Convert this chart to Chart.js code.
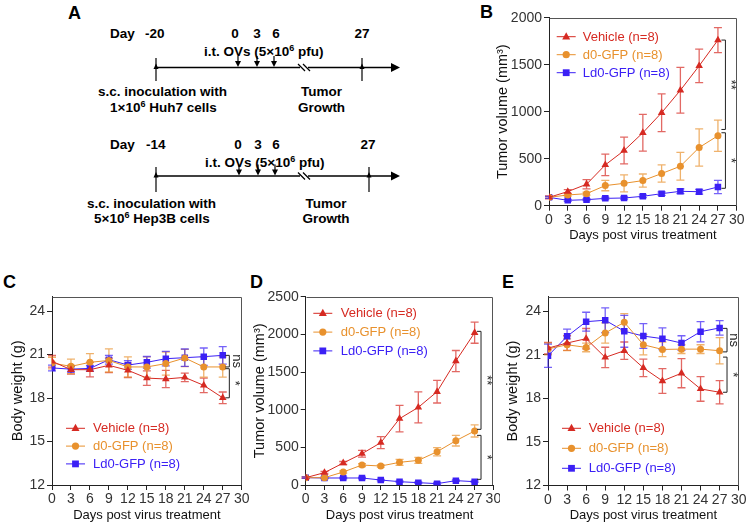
<!DOCTYPE html>
<html>
<head>
<meta charset="utf-8">
<script src="https://cdn.jsdelivr.net/npm/chart.js@4.4.1/dist/chart.umd.min.js"></script>
<style>
  body { margin: 0; background: #fff; width: 747px; height: 525px; position: relative; overflow: hidden;
         font-family: 'Liberation Sans', Arial, sans-serif; }
  canvas { position: absolute; }
  .letter { position: absolute; font-weight: bold; font-size: 18px; line-height: 18px; color: #000; }
  svg { position: absolute; left: 0; top: 0; }
</style>
</head>
<body>

<!-- Panel A: treatment schedule -->
<svg width="480" height="250" font-family="'Liberation Sans', Arial, sans-serif" font-weight="bold" font-size="13.5">
  <text x="68" y="19" font-size="18">A</text>
  <!-- Huh7 -->
  <text x="110" y="38">Day</text>
  <text x="145" y="38">-20</text>
  <text x="235" y="38" text-anchor="middle">0</text>
  <text x="257" y="38" text-anchor="middle">3</text>
  <text x="276" y="38" text-anchor="middle">6</text>
  <text x="362" y="38" text-anchor="middle">27</text>
  <text x="204" y="56">i.t. OVs (5×10<tspan font-size="9" dy="-5">6</tspan><tspan dy="5"> pfu)</tspan></text>
  <line x1="156" y1="67.5" x2="393" y2="67.5" stroke="#000" stroke-width="1.6"/>
  <polygon points="391,63 400,67.5 391,72" fill="#000"/>
  <line x1="156" y1="58" x2="156" y2="81" stroke="#000" stroke-width="1.2"/>
  <polygon points="153.5,69 156,63.5 158.5,69" fill="#000"/>
  <line x1="362" y1="58" x2="362" y2="81" stroke="#000" stroke-width="1.2"/>
  <polygon points="359.5,69 362,63.5 364.5,69" fill="#000"/>
  <line x1="238" y1="56" x2="238" y2="62" stroke="#000" stroke-width="1.2"/>
  <polygon points="235,61 241,61 238,67" fill="#000"/>
  <line x1="257" y1="56" x2="257" y2="62" stroke="#000" stroke-width="1.2"/>
  <polygon points="254,61 260,61 257,67" fill="#000"/>
  <line x1="274" y1="56" x2="274" y2="62" stroke="#000" stroke-width="1.2"/>
  <polygon points="271,61 277,61 274,67" fill="#000"/>
  <rect x="300" y="63" width="8" height="9" fill="#fff"/>
  <line x1="298" y1="64" x2="305" y2="71" stroke="#000" stroke-width="1.2"/>
  <line x1="303" y1="64" x2="310" y2="71" stroke="#000" stroke-width="1.2"/>
  <text x="98" y="96">s.c. inoculation with</text>
  <text x="110" y="112">1×10<tspan font-size="9" dy="-5">6</tspan><tspan dy="5"> Huh7 cells</tspan></text>
  <text x="321.5" y="96" text-anchor="middle">Tumor</text>
  <text x="321.5" y="112" text-anchor="middle">Growth</text>
  <!-- Hep3B -->
  <text x="110" y="149">Day</text>
  <text x="146" y="149">-14</text>
  <text x="238" y="149" text-anchor="middle">0</text>
  <text x="258" y="149" text-anchor="middle">3</text>
  <text x="276" y="149" text-anchor="middle">6</text>
  <text x="368" y="149" text-anchor="middle">27</text>
  <text x="205" y="167">i.t. OVs (5×10<tspan font-size="9" dy="-5">6</tspan><tspan dy="5"> pfu)</tspan></text>
  <line x1="156" y1="176" x2="393" y2="176" stroke="#000" stroke-width="1.6"/>
  <polygon points="391,171.5 400,176 391,180.5" fill="#000"/>
  <line x1="156" y1="167" x2="156" y2="192" stroke="#000" stroke-width="1.2"/>
  <polygon points="153.5,177.5 156,172 158.5,177.5" fill="#000"/>
  <line x1="369" y1="167" x2="369" y2="192" stroke="#000" stroke-width="1.2"/>
  <polygon points="366.5,177.5 369,172 371.5,177.5" fill="#000"/>
  <line x1="239" y1="164.5" x2="239" y2="170.5" stroke="#000" stroke-width="1.2"/>
  <polygon points="236,169.5 242,169.5 239,175.5" fill="#000"/>
  <line x1="258" y1="164.5" x2="258" y2="170.5" stroke="#000" stroke-width="1.2"/>
  <polygon points="255,169.5 261,169.5 258,175.5" fill="#000"/>
  <line x1="275" y1="164.5" x2="275" y2="170.5" stroke="#000" stroke-width="1.2"/>
  <polygon points="272,169.5 278,169.5 275,175.5" fill="#000"/>
  <rect x="300" y="171.5" width="8" height="9" fill="#fff"/>
  <line x1="298" y1="172.5" x2="305" y2="179.5" stroke="#000" stroke-width="1.2"/>
  <line x1="303" y1="172.5" x2="310" y2="179.5" stroke="#000" stroke-width="1.2"/>
  <text x="87" y="208">s.c. inoculation with</text>
  <text x="94" y="223">5×10<tspan font-size="9" dy="-5">6</tspan><tspan dy="5"> Hep3B cells</tspan></text>
  <text x="326" y="208" text-anchor="middle">Tumor</text>
  <text x="326" y="223" text-anchor="middle">Growth</text>
</svg>

<div class="letter" style="left:480px;top:3px">B</div>
<div class="letter" style="left:3px;top:273px">C</div>
<div class="letter" style="left:250px;top:273px">D</div>
<div class="letter" style="left:502px;top:273px">E</div>

<canvas id="chartB" width="257" height="250" style="left:490px;top:5px"></canvas>
<canvas id="chartC" width="250" height="240" style="left:0px;top:285px"></canvas>
<canvas id="chartD" width="250" height="240" style="left:250px;top:285px"></canvas>
<canvas id="chartE" width="250" height="240" style="left:497px;top:285px"></canvas>

<script>
const days = [0, 3, 6, 9, 12, 15, 18, 21, 24, 27];
const dayTicks = [0, 3, 6, 9, 12, 15, 18, 21, 24, 27, 30];
const volTicksB = [0, 500, 1000, 1500, 2000];
const volTicksD = [0, 500, 1000, 1500, 2000, 2500];
const weightTicks = [12, 15, 18, 21, 24];

const seriesNames = ['Vehicle (n=8)', 'd0-GFP (n=8)', 'Ld0-GFP (n=8)'];
const seriesColors = ['#D62A22', '#E8912D', '#3B20F5'];
const seriesShapes = ['triangle', 'circle', 'rect'];

// B: Huh7 tumor volume (mm3)
const vehicleB = [89, 150, 228, 434, 587, 776, 989, 1228, 1488, 1762];
const vehicleBErr = [15, 20, 50, 114, 142, 196, 200, 244, 178, 133];
const d0B = [89, 114, 128, 214, 238, 267, 342, 420, 619, 744];
const d0BErr = [10, 12, 15, 55, 90, 70, 92, 148, 199, 167];
const ld0B = [89, 57, 64, 78, 82, 100, 128, 153, 149, 199];
const ld0BErr = [10, 10, 10, 12, 12, 15, 18, 25, 25, 70];
const bracketsB = [[1762, 811, '**'], [776, 185, '*']];

// C: Huh7 body weight (g)
const vehicleC = [20.54, 19.96, 19.96, 20.26, 19.92, 19.38, 19.32, 19.43, 18.88, 18.02];
const vehicleCErr = [0.4, 0.3, 0.5, 0.5, 0.5, 0.5, 0.6, 0.3, 0.5, 0.4];
const d0C = [20.42, 20.19, 20.47, 20.6, 20.15, 20.15, 20.38, 20.77, 20.15, 20.15];
const d0CErr = [0.4, 0.5, 0.6, 0.8, 0.7, 0.7, 0.8, 0.6, 0.7, 0.7];
const ld0C = [20.08, 20.0, 20.05, 20.65, 20.28, 20.47, 20.72, 20.79, 20.86, 20.95];
const ld0CErr = [0.2, 0.2, 0.2, 0.3, 0.3, 0.4, 0.5, 0.6, 0.6, 0.6];
const bracketsC = [[20.95, 20.15, 'ns'], [20.03, 18.02, '*']];

// D: Hep3B tumor volume (mm3)
const vehicleD = [97, 164, 292, 416, 562, 881, 1031, 1239, 1646, 2022];
const vehicleDErr = [10, 15, 20, 45, 80, 175, 205, 150, 140, 140];
const d0D = [97, 97, 173, 265, 252, 301, 327, 442, 588, 717];
const d0DErr = [10, 10, 15, 20, 15, 40, 40, 55, 70, 80];
const ld0D = [97, 93, 93, 93, 66, 44, 31, 18, 58, 44];
const ld0DErr = [10, 10, 10, 10, 10, 10, 10, 15, 10, 10];
const bracketsD = [[2040, 739, '**'], [659, 75, '*']];

// E: Hep3B body weight (g)
const vehicleE = [21.46, 21.81, 22.11, 20.82, 21.28, 20.1, 19.2, 19.73, 18.65, 18.42];
const vehicleEErr = [0.4, 0.5, 0.7, 0.7, 0.6, 0.6, 0.85, 1.0, 0.85, 0.8];
const d0E = [21.4, 21.69, 21.51, 22.5, 23.24, 21.69, 21.37, 21.39, 21.39, 21.28];
const d0EErr = [0.4, 0.4, 0.3, 0.7, 0.6, 0.7, 0.5, 0.3, 0.3, 0.9];
const ld0E = [20.93, 22.27, 23.28, 23.38, 22.62, 22.29, 22.11, 21.81, 22.59, 22.85];
const ld0EErr = [0.8, 0.5, 0.65, 0.85, 1.1, 0.85, 0.75, 0.5, 0.7, 0.5];
const bracketsE = [[22.82, 21.2, 'ns'], [20.84, 18.42, '*']];

const FONT = "'Liberation Sans', Arial, sans-serif";

function withAlpha(hex, a) {
  const n = parseInt(hex.slice(1), 16);
  return `rgba(${n >> 16}, ${(n >> 8) & 255}, ${n & 255}, ${a})`;
}

function drawMarker(ctx, shape, x, y, color) {
  ctx.fillStyle = color;
  ctx.beginPath();
  if (shape === 'triangle') {
    ctx.moveTo(x, y - 4.5);
    ctx.lineTo(x + 4, y + 2.8);
    ctx.lineTo(x - 4, y + 2.8);
  } else if (shape === 'circle') {
    ctx.arc(x, y, 3.6, 0, Math.PI * 2);
  } else {
    ctx.rect(x - 3.4, y - 3.4, 6.8, 6.8);
  }
  ctx.closePath();
  ctx.fill();
}

// error bars, significance brackets, in-plot legend and the plot frame
const extrasPlugin = {
  id: 'extras',
  beforeDatasetsDraw(chart, args, opts) {
    const { ctx } = chart;
    const xs = chart.scales.x, ys = chart.scales.y;
    ctx.save();
    opts.errors.forEach((errs, i) => {
      const vals = chart.data.datasets[i].data;
      ctx.strokeStyle = withAlpha(seriesColors[i], 0.7);
      ctx.lineWidth = 1.3;
      vals.forEach((p, j) => {
        const x = xs.getPixelForValue(p.x);
        const yt = ys.getPixelForValue(p.y + errs[j]);
        const yb = ys.getPixelForValue(p.y - errs[j]);
        ctx.beginPath();
        ctx.moveTo(x, yt); ctx.lineTo(x, yb);
        ctx.moveTo(x - 4, yt); ctx.lineTo(x + 4, yt);
        ctx.moveTo(x - 4, yb); ctx.lineTo(x + 4, yb);
        ctx.stroke();
      });
    });
    ctx.restore();
  },
  afterDraw(chart, args, opts) {
    const { ctx, chartArea: a } = chart;
    const xs = chart.scales.x, ys = chart.scales.y;
    ctx.save();
    // frame
    ctx.strokeStyle = '#555';
    ctx.lineWidth = 1;
    ctx.beginPath();
    ctx.moveTo(Math.round(a.left) + 0.5, Math.round(a.top) + 0.5);
    ctx.lineTo(Math.round(a.right) - 0.5, Math.round(a.top) + 0.5);
    ctx.lineTo(Math.round(a.right) - 0.5, Math.round(a.bottom));
    ctx.stroke();
    // brackets
    const xEnd = xs.getPixelForValue(days[days.length - 1]);
    ctx.strokeStyle = '#222';
    ctx.fillStyle = '#222';
    ctx.font = `13px ${FONT}`;
    ctx.textAlign = 'center';
    ctx.textBaseline = 'middle';
    opts.brackets.forEach(([top, bottom, label]) => {
      const y1 = ys.getPixelForValue(top), y2 = ys.getPixelForValue(bottom);
      const bx = xEnd + opts.bracketGap;
      ctx.beginPath();
      ctx.moveTo(bx - 4, y1); ctx.lineTo(bx, y1); ctx.lineTo(bx, y2); ctx.lineTo(bx - 4, y2);
      ctx.stroke();
      ctx.save();
      ctx.translate(bx + 7, (y1 + y2) / 2);
      ctx.rotate(Math.PI / 2);
      ctx.fillText(label, 0, label === 'ns' ? 0 : 1.5);
      ctx.restore();
    });
    // legend
    const lg = opts.legend;
    ctx.font = `13px ${FONT}`;
    ctx.textAlign = 'left';
    seriesNames.forEach((name, i) => {
      const y = a.top + lg.y + i * lg.gap;
      const x0 = a.left + lg.x;
      ctx.strokeStyle = seriesColors[i];
      ctx.lineWidth = 1;
      ctx.beginPath();
      ctx.moveTo(x0, y); ctx.lineTo(x0 + 19, y);
      ctx.stroke();
      drawMarker(ctx, seriesShapes[i], x0 + 9.5, y, seriesColors[i]);
      ctx.fillStyle = seriesColors[i];
      ctx.fillText(name, x0 + lg.textX, y + 0.5);
    });
    ctx.restore();
  }
};

function makeChart(id, p) {
  const datasets = p.series.map((vals, i) => ({
    label: seriesNames[i],
    data: vals.map((v, j) => ({ x: days[j], y: v })),
    borderColor: seriesColors[i],
    backgroundColor: seriesColors[i],
    borderWidth: 1,
    pointStyle: seriesShapes[i],
    pointRadius: seriesShapes[i] === 'rect' ? 4.6 : (seriesShapes[i] === 'triangle' ? 4.4 : 3.5),
    pointBorderWidth: 0,
    tension: 0
  }));
  return new Chart(document.getElementById(id), {
    type: 'line',
    data: { datasets },
    plugins: [extrasPlugin],
    options: {
      responsive: false,
      animation: false,
      layout: { padding: { left: 0, top: p.padTop, right: p.padRight, bottom: 0 } },
      plugins: {
        legend: { display: false },
        tooltip: { enabled: false },
        extras: { errors: p.errors, brackets: p.brackets, legend: p.legend, bracketGap: p.bracketGap }
      },
      scales: {
        x: {
          type: 'linear', min: 0, max: 30,
          afterBuildTicks: s => { s.ticks = dayTicks.map(v => ({ value: v })); },
          afterFit: s => { s.height = p.xHeight; s.paddingLeft = 0; s.paddingRight = 0; },
          grid: { drawOnChartArea: false, drawTicks: true, tickLength: 5, color: '#222' },
          border: { color: '#222', width: 1 },
          ticks: { color: '#333', padding: 1, maxRotation: 0, autoSkip: false,
                   callback: v => String(v), font: { family: FONT, size: 14 } },
          title: { display: true, text: 'Days post virus treatment', color: '#111',
                   font: { family: FONT, size: 13 }, padding: { top: 0, bottom: p.xTitlePad } }
        },
        y: {
          type: 'linear', min: p.yMin, max: p.yMax,
          afterBuildTicks: s => { s.ticks = p.yTicks.map(v => ({ value: v })); },
          afterFit: s => { s.width = p.yWidth; s.paddingTop = 0; s.paddingBottom = 0; },
          grid: { drawOnChartArea: false, drawTicks: true, tickLength: 5, color: '#222' },
          border: { color: '#222', width: 1 },
          ticks: { color: '#333', padding: 2, autoSkip: false,
                   callback: v => String(v), font: { family: FONT, size: 14 } },
          title: { display: true, text: p.yTitle, color: '#111',
                   font: { family: FONT, size: 14.5 }, padding: { top: p.yTitlePad, bottom: 0 } }
        }
      }
    }
  });
}

// title padding = centre offset from the canvas edge minus half of the title line height
makeChart('chartB', {
  series: [vehicleB, d0B, ld0B], errors: [vehicleBErr, d0BErr, ld0BErr], brackets: bracketsB,
  yMin: 0, yMax: 2000, yTicks: volTicksB, yTitle: 'Tumor volume (mm³)',
  padTop: 12.7, padRight: 10.3, yWidth: 59, xHeight: 49.3, yTitlePad: 4.6, xTitlePad: 12,
  bracketGap: 7.5, legend: { x: 7.7, y: 19, gap: 18, textX: 26 }
});
makeChart('chartC', {
  series: [vehicleC, d0C, ld0C], errors: [vehicleCErr, d0CErr, ld0CErr], brackets: bracketsC,
  yMin: 12, yMax: 25, yTicks: weightTicks, yTitle: 'Body weight (g)',
  padTop: 11.7, padRight: 8.3, yWidth: 52, xHeight: 40, yTitlePad: 9.6, xTitlePad: 1.7,
  bracketGap: 6.6, legend: { x: 14, y: 131.6, gap: 17.8, textX: 27 }
});
makeChart('chartD', {
  series: [vehicleD, d0D, ld0D], errors: [vehicleDErr, d0DErr, ld0DErr], brackets: bracketsD,
  yMin: 0, yMax: 2500, yTicks: volTicksD, yTitle: 'Tumor volume (mm³)',
  padTop: 11.7, padRight: 6.6, yWidth: 55.7, xHeight: 40, yTitlePad: 1.3, xTitlePad: 1.7,
  bracketGap: 6.4, legend: { x: 7.6, y: 16.6, gap: 18.8, textX: 27.4 }
});
makeChart('chartE', {
  series: [vehicleE, d0E, ld0E], errors: [vehicleEErr, d0EErr, ld0EErr], brackets: bracketsE,
  yMin: 12, yMax: 25, yTicks: weightTicks, yTitle: 'Body weight (g)',
  padTop: 11.7, padRight: 8.3, yWidth: 51, xHeight: 39.5, yTitlePad: 7.3, xTitlePad: 1.7,
  bracketGap: 7.4, legend: { x: 14, y: 131.6, gap: 20, textX: 26.7 }
});
</script>
</body>
</html>
